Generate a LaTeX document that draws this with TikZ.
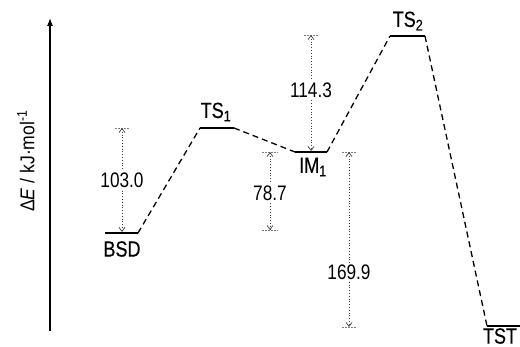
\documentclass[tikz,border=0pt]{standalone}
\usepackage{fontspec}
\setmainfont{Liberation Sans}
\newfontfamily\condfont[FakeStretch=0.82]{Liberation Sans}
\newfontfamily\labfont[FakeStretch=0.82,FakeBold=0.35]{Liberation Sans}
\newfontfamily\axfont[FakeStretch=0.88]{Liberation Sans}
\usetikzlibrary{arrows.meta}
\tikzset{
  level/.style={line width=1.5pt, black},
  conn/.style={line width=1.3pt, black, dash pattern=on 6pt off 4pt},
  gap/.style={draw=black!75, line width=0.8pt, dotted, {Straight Barb[length=4pt,width=6pt,line width=0.7pt]}-{Straight Barb[length=4pt,width=6pt,line width=0.7pt]}},
  tick/.style={draw=black!50, line width=0.8pt, dash pattern=on 2pt off 1pt},
  lab/.style={font=\labfont\fontsize{22}{24}\selectfont, inner sep=1pt},
  num/.style={font=\condfont\fontsize{21}{23}\selectfont, fill=white, inner sep=1.5pt},
}
\begin{document}
\begin{tikzpicture}[x=1pt,y=-1pt]
\useasboundingbox (0,0) rectangle (520,347);
% axis
\coordinate (axb) at (50,331);
\coordinate (axt) at (50,18);
\draw[line width=1.1pt, -{Latex[length=8pt,width=6pt]}] (axb) -- (axt);
\node[rotate=90, inner sep=1pt, font=\axfont\fontsize{20}{22}\selectfont] (ylab) at (26,161) {Δ\textit{E} / kJ·mol\textsuperscript{-1}};
% level end points
\coordinate (bsdL) at (105,233); \coordinate (bsdR) at (138,233);
\coordinate (ts1L) at (200,128); \coordinate (ts1R) at (234,128);
\coordinate (im1L) at (295,152); \coordinate (im1R) at (327,152);
\coordinate (ts2L) at (390,36);  \coordinate (ts2R) at (425,36);
\coordinate (tstL) at (487,326); \coordinate (tstR) at (520,326);
% levels
\draw[level] (bsdL) -- (bsdR);
\draw[level] (ts1L) -- (ts1R);
\draw[level] (im1L) -- (im1R);
\draw[level] (ts2L) -- (ts2R);
\draw[level] (tstL) -- (tstR);
% labels
\node[lab] (bsd) at (122,249) {BSD};
\node[lab] (ts1) at (216,112) {TS\textsubscript{1}};
\node[lab] (im1) at (313,167) {IM\textsubscript{1}};
\node[lab] (ts2) at (408,21) {TS\textsubscript{2}};
\node[lab] (tst) at (500,336) {TST};
% connectors
\draw[conn] (bsdR) -- (ts1L);
\draw[conn] (ts1R) -- (im1L);
\draw[conn] (im1R) -- (ts2L);
\draw[conn] (ts2R) -- (tstL);
% gap 103.0
\coordinate (a1t) at (122,128); \coordinate (a1b) at (122,232);
\draw[tick] (115,128) -- (130,128);
\draw[gap] (a1t) -- (a1b);
\node[num] (n1) at (122,180) {103.0};
% gap 78.7
\coordinate (a2t) at (270,152); \coordinate (a2b) at (270,230);
\draw[tick] (262,152) -- (278,152);
\draw[tick] (262,230) -- (278,230);
\draw[gap] (a2t) -- (a2b);
\node[num] (n2) at (270,193) {78.7};
% gap 114.3
\coordinate (a3t) at (311,35); \coordinate (a3b) at (311,151);
\draw[tick] (304,35) -- (319,35);
\draw[gap] (a3t) -- (a3b);
\node[num] (n3) at (311,90) {114.3};
% gap 169.9
\coordinate (a4t) at (349,152); \coordinate (a4b) at (349,327);
\draw[tick] (342,152) -- (357,152);
\draw[tick] (342,327) -- (357,327);
\draw[gap] (a4t) -- (a4b);
\node[num] (n4) at (349,272) {169.9};
\end{tikzpicture}
\end{document}
